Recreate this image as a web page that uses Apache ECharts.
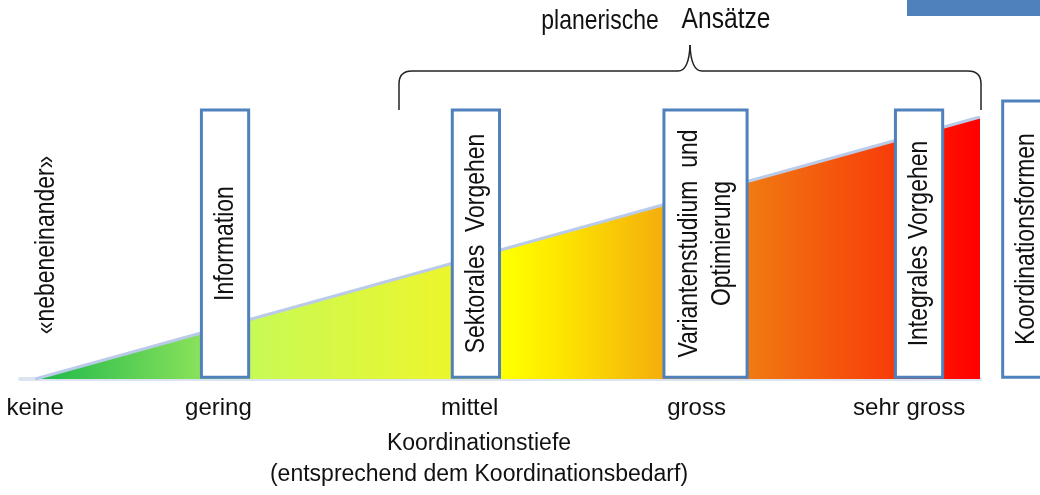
<!DOCTYPE html>
<html>
<head>
<meta charset="utf-8">
<script src="https://cdn.jsdelivr.net/npm/echarts@6/dist/echarts.min.js"></script>
<style>
  html, body { margin: 0; padding: 0; background: #fff; }
  #main { width: 1040px; height: 495px; }
</style>
</head>
<body>
<div id="main"></div>
<script>
// Koordinationstiefe: Stufen auf der x-Achse
var levelNames = ['keine', 'gering', 'mittel', 'gross', 'sehr gross'];
var levelDepth = [0, 19.4, 46, 70, 92.5];

// Dreieck (Koordinationsbedarf steigt linear)
var rampX = [0, 100];
var rampY = [0, 100];

// planerische Ansätze und ihre Lage auf der Achse
var approachNames = ['Information', 'Sektorales  Vorgehen', 'Variantenstudium  und\nOptimierung', 'Integrales Vorgehen'];
var approachDepth = [20.1, 46.65, 70.95, 93.55];

var FONT = '"Liberation Sans", Arial, sans-serif';
var NARROW = 0.82;   // schmale Schrift nachbilden
var blue = '#4f81bd';

var myChart = echarts.init(document.getElementById('main'));

function renderBox(params, api) {
    var x = api.value(0);
    var name = approachNames[params.dataIndex] || 'Koordinationsformen';
    var isForm = name === 'Koordinationsformen';
    var lines = name.split('\n').length;
    var hw = lines === 2 ? 4.4 : 2.5;     // halbe Breite in Achseneinheiten
    var top = isForm ? 106.1 : 102.7;
    var p0 = api.coord([x - hw, top]);
    var p1 = api.coord([x + hw, 0.7]);
    return {
        type: 'group',
        children: [{
            type: 'rect',
            shape: { x: p0[0], y: p0[1], width: p1[0] - p0[0], height: p1[1] - p0[1] },
            style: { fill: '#fff', stroke: blue, lineWidth: 3 }
        }, {
            type: 'text',
            x: (p0[0] + p1[0]) / 2,
            y: (p0[1] + p1[1]) / 2,
            rotation: Math.PI / 2,
            scaleX: NARROW,
            style: {
                text: name,
                fill: '#111',
                fontSize: 28,
                fontFamily: FONT,
                align: 'center',
                verticalAlign: 'middle',
                lineHeight: 33
            }
        }]
    };
}

var boxData = approachDepth.map(function (d) { return [d, 50]; });
boxData.push([104.9, 50]);

var braceStyle = { stroke: '#222', lineWidth: 1.5, fill: null };

var option = {
    animation: false,
    grid: { left: 20, right: 60, top: 117, bottom: 115 },
    xAxis: {
        type: 'value',
        min: -1.6,
        max: 100,
        splitLine: { show: false },
        axisTick: { show: false },
        axisLine: { lineStyle: { color: '#dce4f2', width: 4 } },
        axisLabel: {
            customValues: levelDepth,
            formatter: function (v) { return levelNames[levelDepth.indexOf(v)]; },
            color: '#111',
            fontSize: 24,
            fontFamily: FONT,
            lineHeight: 26,
            margin: 16
        },
        name: 'Koordinationstiefe\n(entsprechend dem Koordinationsbedarf)',
        nameLocation: 'middle',
        nameGap: 49,
        nameTextStyle: {
            color: '#111',
            fontSize: 23,
            fontFamily: FONT,
            lineHeight: 31,
            padding: [0, 42, 0, 0]
        }
    },
    yAxis: { type: 'value', min: 0, max: 100, show: false },
    series: [{
        type: 'line',
        data: rampX.map(function (x, i) { return [x, rampY[i]]; }),
        symbol: 'none',
        lineStyle: { color: '#b9cbe8', width: 3 },
        areaStyle: {
            opacity: 1,
            color: new echarts.graphic.LinearGradient(0, 0, 1, 0, [
                { offset: 0, color: '#1cb84a' },
                { offset: 0.17, color: '#86e05a' },
                { offset: 0.23, color: '#c8fa55' },
                { offset: 0.45, color: '#eef52a' },
                { offset: 0.5, color: '#ffff00' },
                { offset: 0.56, color: '#fde400' },
                { offset: 0.66, color: '#f5b00c' },
                { offset: 0.75, color: '#f07c12' },
                { offset: 0.9, color: '#f7400a' },
                { offset: 0.96, color: '#ff1000' },
                { offset: 1, color: '#ff0000' }
            ])
        },
        z: 2
    }, {
        type: 'custom',
        renderItem: renderBox,
        data: boxData,
        encode: { x: 0, y: 1 },
        z: 5
    }],
    graphic: [
        {   // Balken oben rechts
            type: 'rect',
            shape: { x: 907, y: 0, width: 140, height: 16 },
            style: { fill: blue }
        },
        // geschweifte Klammer
        { type: 'line', shape: { x1: 399, y1: 110, x2: 399, y2: 84 }, style: braceStyle },
        { type: 'bezierCurve', shape: { x1: 399, y1: 84, cpx1: 399, cpy1: 71, x2: 412, y2: 71 }, style: braceStyle },
        { type: 'line', shape: { x1: 412, y1: 71, x2: 678, y2: 71 }, style: braceStyle },
        { type: 'bezierCurve', shape: { x1: 678, y1: 71, cpx1: 689, cpy1: 71, x2: 690, y2: 45 }, style: braceStyle },
        { type: 'bezierCurve', shape: { x1: 690, y1: 45, cpx1: 691, cpy1: 71, x2: 702, y2: 71 }, style: braceStyle },
        { type: 'line', shape: { x1: 702, y1: 71, x2: 968, y2: 71 }, style: braceStyle },
        { type: 'bezierCurve', shape: { x1: 968, y1: 71, cpx1: 981, cpy1: 71, x2: 981, y2: 84 }, style: braceStyle },
        { type: 'line', shape: { x1: 981, y1: 84, x2: 981, y2: 110 }, style: braceStyle },
        {
            type: 'text', x: 600, y: 21, scaleX: NARROW,
            style: { text: 'planerische', fill: '#111', fontSize: 28, fontFamily: FONT, align: 'center', verticalAlign: 'middle' }
        },
        {
            type: 'text', x: 726, y: 20, scaleX: NARROW,
            style: { text: 'Ansätze', fill: '#111', fontSize: 30, fontFamily: FONT, align: 'center', verticalAlign: 'middle' }
        },
        {
            type: 'text', x: 46, y: 245, rotation: Math.PI / 2, scaleX: NARROW,
            style: { text: '«nebeneinander»', fill: '#111', fontSize: 28, fontFamily: FONT, align: 'center', verticalAlign: 'middle' }
        }
    ]
};

myChart.setOption(option);
</script>
</body>
</html>
